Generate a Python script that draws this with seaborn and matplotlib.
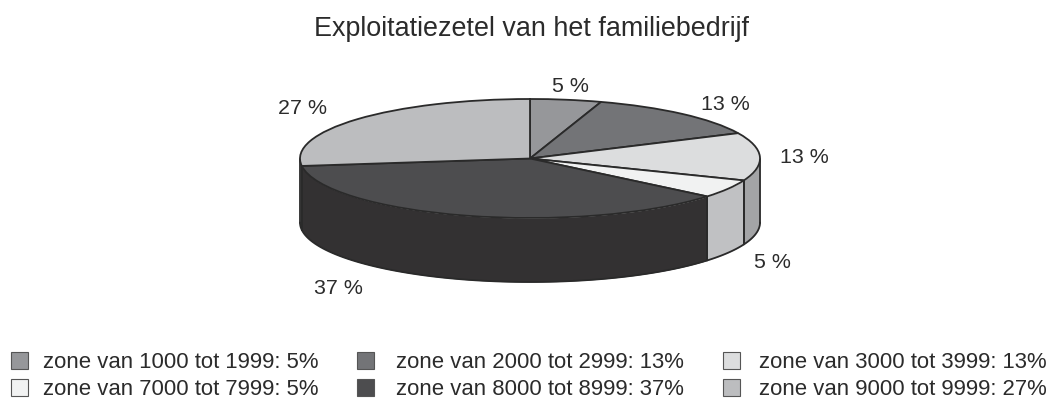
import numpy as np
import matplotlib
matplotlib.use("Agg")
import matplotlib.pyplot as plt
import seaborn as sns
from matplotlib.patches import Patch

title = "Exploitatiezetel van het familiebedrijf"
zones = ["zone van 1000 tot 1999", "zone van 2000 tot 2999", "zone van 3000 tot 3999",
         "zone van 7000 tot 7999", "zone van 8000 tot 8999", "zone van 9000 tot 9999"]
shares = [5, 13, 13, 5, 37, 27]
top_colors = ["#96979a", "#737477", "#dcddde", "#f1f2f2", "#4d4d4f", "#bcbdbf"]
side_colors = ["#96979a", "#737477", "#a3a4a6", "#c0c1c3", "#333132", "#333132"]
label_px = [(570, 86), (725, 104), (804, 157), (772, 263), (338, 288), (302, 109)]

W, H = 1054, 400
CX, CY, RX, RY, DEPTH = 530, 158.5, 230, 59.5, 64
EDGE = "#2a2a2a"

sns.set_theme(style="white")
plt.rcParams["font.family"] = ["Liberation Sans", "DejaVu Sans"]

fig = plt.figure(figsize=(W / 100, H / 100), dpi=100)
ax = fig.add_axes([0, 0, 1, 1])

# Side wall first, then the top of the pie
d = DEPTH / RY
edges = np.cumsum([0] + shares) / sum(shares) * 360
for i in range(len(shares)):
    a0, a1 = max(edges[i], 90), min(edges[i + 1], 270)
    if a1 <= a0:
        continue
    th = np.radians(np.linspace(a0, a1, 80))
    x, y = np.sin(th), np.cos(th)
    ax.fill_between(x, y, y - d, color=side_colors[i], linewidth=0, zorder=1)
    ax.plot(x, y - d, color=EDGE, lw=1.3, zorder=2)
    for xv, yv in ((x[0], y[0]), (x[-1], y[-1])):
        ax.plot([xv, xv], [yv, yv - d], color=EDGE, lw=1.3, zorder=2)

wedges, _ = ax.pie(shares, colors=top_colors, startangle=90, counterclock=False, radius=1,
                   wedgeprops=dict(edgecolor=EDGE, linewidth=1.3, zorder=3))
ax.set_aspect("auto")
ax.set_xlim(-CX / RX, (W - CX) / RX)
ax.set_ylim(-(H - CY) / RY, CY / RY)
ax.axis("off")

fig.text(531 / W, 1 - 29 / H, title, ha="center", va="center", fontsize=19.4, color="#2b2b2b")
for s, (px, py) in zip(shares, label_px):
    fig.text(px / W, 1 - py / H, f"{s} %", ha="center", va="center", fontsize=15.4, color="#2b2b2b")

# one legend per column: the reference's columns have different handle-to-text gaps
columns = [((0, 3), 11, 0.68), ((1, 4), 357, 1.0), ((2, 5), 723, 0.86)]
for idx, left, pad in columns:
    handles = [Patch(facecolor=top_colors[i], edgecolor="#555555", linewidth=0.8,
                     label=f"{zones[i]}: {shares[i]}%") for i in idx]
    fig.legend(handles=handles, ncol=1, frameon=False, loc="lower left",
               bbox_to_anchor=(left / W, 1 - 400 / H), borderaxespad=0, borderpad=0,
               fontsize=15.9, labelcolor="#2b2b2b", handlelength=0.77, handleheight=0.77,
               handletextpad=pad, labelspacing=0.26)

fig.savefig("out.png", dpi=100)
